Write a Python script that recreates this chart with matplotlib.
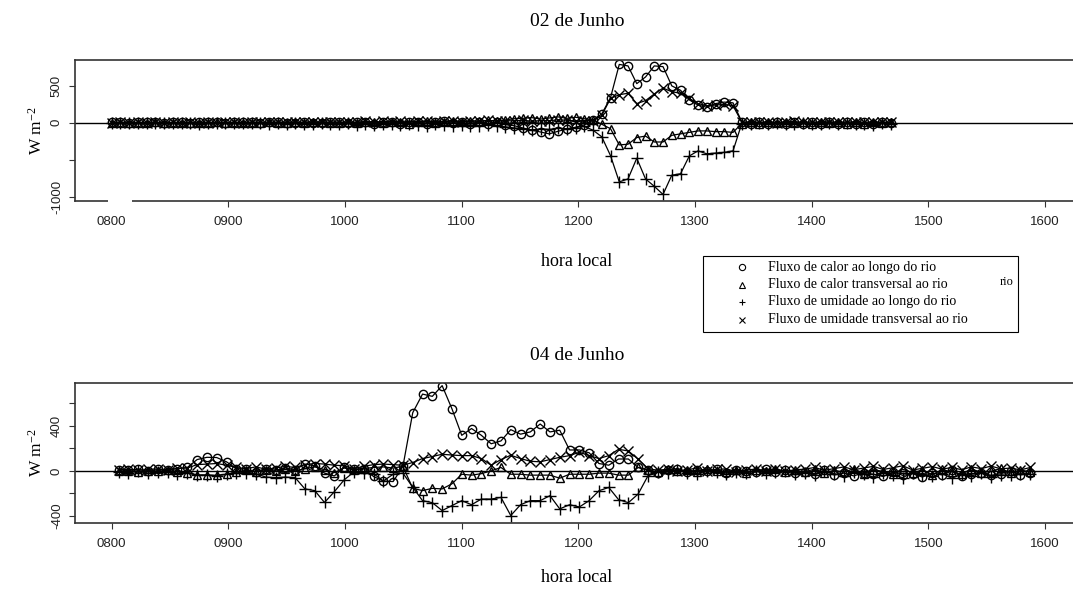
import matplotlib
matplotlib.use("Agg")
import matplotlib.pyplot as plt
import numpy as np
from matplotlib.patches import Rectangle
from matplotlib.lines import Line2D

plt.rcParams['font.family'] = ['Liberation Serif', 'DejaVu Serif']
plt.rcParams['mathtext.default'] = 'regular'

# hora local (hhmm) -- amostragem regular de cada dia
hora_02 = 800 + 7.5 * np.arange(90)
hora_04 = 806 + 8.4 * np.arange(94)

# 02 de Junho
calor_longo_02 = [5, 8, 3, 6, 4, 7, 2, 5, 6, 3, 8, 4, 5, 2, 6,
                  4, 7, 3, 5, 9, 2, -4, 6, 3, -8, 5, 10, -6, 4, 8,
                  -12, 6, 14, -10, 8, 12, -15, 5, 18, -9, 10, -20, 15, -12, 8,
                  -25, -40, -70, -100, -125, -150, -115, -85, -60, -30, 40,
                  120, 340, 790, 770, 530, 620, 770, 760, 500, 440, 310, 240, 210, 260, 280, 270, 15,
                  -10, 12, -15, 8, -20, 10, -12, 15, -18, 6, -10, 14, -22, 9, -15, 12, -8]
calor_transv_02 = [-3, 2, -5, 1, -2, 4, -4, 0, 3, -3, 2, -1, 4, -2, 1,
                   -4, 3, -2, 5, -6, 2, 8, -5, 4, 10, -3, -8, 6, -4, 12,
                   10, -6, 15, 8, -10, 12, 20, -5, 14, 25, 8, 30, 18, 35, 22,
                   40, 55, 60, 70, 50, 65, 80, 60, 75, 55, 40,
                   -20, -80, -300, -290, -200, -180, -260, -260, -170, -150, -130, -110, -110, -120, -120, -130, -10,
                   8, -12, 10, -6, 14, -9, 5, -14, 11, -7, 12, -10, 6, -13, 9, -5, 10]
umid_longo_02 = [-6, -3, -8, -4, -7, -2, -9, -5, -6, -3, -10, -4, -7, -5, -8,
                 -6, -9, -4, -12, -5, -15, -8, -10, -18, -6, -12, -20, -9, -25, -14,
                 -30, -18, -22, -35, -15, -28, -40, -20, -32, -45, -25, -38, -50, -30, -42,
                 -55, -70, -80, -95, -85, -90, -75, -80, -65, -50, -100,
                 -190, -445, -800, -760, -480, -760, -860, -970, -710, -690, -450, -380, -420, -410, -400, -380, -10,
                 -15, -8, -20, -5, -12, -18, -6, -14, -22, -9, -16, -7, -20, -11, -25, -8, -15]
umid_transv_02 = [2, 5, 1, 4, 3, 6, 2, 4, 1, 5, 3, 7, 2, 4, 6,
                  3, 8, 5, 10, 4, 12, 6, 9, 15, 7, 11, 5, 14, 8, 18,
                  10, 20, 12, 25, 15, 18, 28, 12, 22, 30, 16, 26, 20, 32, 24,
                  30, 25, 35, 20, 30, 28, 40, 35, 25, 30, 30,
                  100, 330, 380, 400, 260, 300, 390, 470, 420, 400, 330, 260, 230, 240, 250, 230, 10,
                  12, 6, 15, 3, 10, 18, 5, 12, 8, 16, 4, 11, 14, 7, 13, 9, 5]

# 04 de Junho
calor_longo_04 = [10, 5, 15, -5, 12, 8, 20, 30,
                  100, 120, 118, 80, 20,
                  15, -10, 20, 5, 25, 10,
                  60, 45, -20, -45, 30, 15,
                  20, -50, -90, -95, 40,
                  515, 680, 660, 755, 550, 315, 375, 315, 240, 265, 365, 325,
                  345, 415, 345, 360, 185, 185, 160, 65, 50, 105, 105, 30,
                  10, -15, 5, 20, -10, 8, -5, 15, -20, 10, 0, -12, 18, -8, 6, -15,
                  -10, -25, 5, -35, -20, -45, -15, -30, -50, -10, -40, -25,
                  -55, -20, -35, 5, -45, -30, -15, -40, -25, 0, -35, -20]
calor_transv_04 = [-5, 3, -8, 0, -4, 6, -10, -15,
                   -35, -40, -38, -30, -10,
                   5, -8, 10, -5, 12, 0,
                   20, 35, 10, -15, 25, 8,
                   20, 30, 35, 25, 40,
                   -155, -175, -155, -160, -115, -30, -38, -25, 0, 30, -30, -30,
                   -38, -38, -38, -65, -30, -30, -30, -20, -20, -38, -38, 30,
                   5, -10, 12, -5, 8, -12, 15, 0, -8, 10, -15, 6, -5, 12, -10, 4,
                   -8, 15, -20, 5, -12, 20, -25, 10, -5, -30, 15, -18,
                   8, -35, 12, -10, -28, 18, -15, -5, 22, -20, 10, -12]
umid_longo_04 = [-10, -15, -5, -20, -8, -12, -25, -18,
                 -40, -35, -45, -30, -20,
                 -15, -25, -55, -60, -55, -60,
                 -160, -175, -280, -185, -80, -10,
                 -15, -25, -90, -30, -20,
                 -145, -264, -282, -352, -308, -264, -300, -250, -250, -235, -396, -300,
                 -264, -264, -220, -337, -300, -320, -264, -176, -147, -255, -282, -205,
                 -44, -10, -20, 5, -15, -25, 0, -12, -30, -8, -18, 2, -22, -10, -5, -28,
                 -15, -35, -5, -25, -45, -10, -30, -55, -20, -40, -60, -15,
                 -35, -50, -25, -65, -30, -45, -20, -55, -35, -40, -25, -30]
umid_transv_04 = [8, 15, 5, 12, 18, 10, 22, 25,
                  55, 60, 65, 50, 30,
                  20, 35, 15, 25, 40, 30,
                  55, 65, 60, 50, 45, 20,
                  40, 55, 60, 55, 50,
                  74, 109, 127, 147, 140, 135, 135, 109, 50, 100, 138, 109,
                  85, 80, 100, 120, 135, 165, 135, 109, 135, 191, 176, 103,
                  20, 5, 15, -5, 10, 25, 0, 12, 18, -8, 8, 15, 3, 20, -5, 10,
                  15, 30, 5, 20, 35, 10, 25, 40, 12, 28, 45, 8,
                  22, 38, 15, 30, 10, 35, 20, 42, 18, 25, 8, 30]

legenda = ['Fluxo de calor ao longo do rio',
           'Fluxo de calor transversal ao rio',
           'Fluxo de umidade ao longo do rio',
           'Fluxo de umidade transversal ao rio']
marcadores = ['o', '^', '+', 'x']
tamanhos = [6, 6, 8, 7]
horas = np.arange(800, 1700, 100)

W, H = 1073, 590


def fx(px):
    return px / W


def fy(py):
    return 1 - py / H


fig = plt.figure(figsize=(W / 100, H / 100), dpi=100)
ax1 = fig.add_axes([fx(74.7), fy(201), fx(1079) - fx(74.7), fy(60) - fy(201)])
ax2 = fig.add_axes([fx(74.7), fy(523), fx(1079) - fx(74.7), fy(382.7) - fy(523)])


def painel(ax, hora, series, ylim, yticks, ylabels):
    for y, m, s in zip(series, marcadores, tamanhos):
        ax.plot(hora, y, color='k', lw=0.9, marker=m, ms=s, mfc='none',
                mec='k', mew=1.0)
    ax.axhline(0, color='k', lw=1.0, zorder=1)
    ax.set_xlim(768.3, 1629)
    ax.set_ylim(*ylim)
    ax.set_xticks(horas)
    ax.set_xticklabels(['%04d' % h for h in horas], family='Liberation Sans',
                       fontsize=9.5, color='#222222')
    ax.set_yticks(yticks)
    ax.set_yticklabels(ylabels, family='Liberation Sans', fontsize=9.5,
                       rotation=90, va='center', color='#222222')
    ax.tick_params(axis='both', direction='out', length=4.5, width=0.8, color='#333333')
    ax.tick_params(axis='x', pad=6)
    ax.tick_params(axis='y', pad=4)
    ax.spines['right'].set_visible(False)
    for s in ['left', 'top', 'bottom']:
        ax.spines[s].set_linewidth(1.2)
        ax.spines[s].set_color('#333333')
    ax.set_ylabel(r'W m$^{-2}$', fontsize=12.5, labelpad=4)


painel(ax1, hora_02, [calor_longo_02, calor_transv_02, umid_longo_02, umid_transv_02],
       (-1059, 850), [-1000, -500, 0, 500], ['-1000', '', '0', '500'])
painel(ax2, hora_04, [calor_longo_04, calor_transv_04, umid_longo_04, umid_transv_04],
       (-462, 781), [-400, -200, 0, 200, 400, 600], ['-400', '', '0', '', '400', ''])

fig.text(fx(577), fy(22), '02 de Junho', ha='center', va='center', fontsize=14)
fig.text(fx(577), fy(355), '04 de Junho', ha='center', va='center', fontsize=14)
fig.text(fx(577), fy(262), 'hora local', ha='center', va='center', fontsize=13)
fig.text(fx(577), fy(578), 'hora local', ha='center', va='center', fontsize=13)

# falha na borda inferior do primeiro painel
fig.add_artist(Rectangle((fx(108), fy(210)), fx(132) - fx(108), fy(197) - fy(210),
                         transform=fig.transFigure, fc='white', ec='none', zorder=10))

# legenda
fig.add_artist(Rectangle((fx(703), fy(332)), fx(1018) - fx(703), fy(256) - fy(332),
                         transform=fig.transFigure, fill=False, lw=0.8, ec='k', zorder=10))
for k, (lab, m) in enumerate(zip(legenda, marcadores)):
    yy = 267 + 17.5 * k
    fig.add_artist(Line2D([fx(742)], [fy(yy)], marker=m, ms=4.5, mfc='none', mec='k',
                          mew=0.8, transform=fig.transFigure, zorder=10))
    fig.text(fx(768), fy(yy), lab, va='center', fontsize=10)
fig.text(fx(1000), fy(282), 'rio', va='center', fontsize=9)

fig.savefig('out.png', dpi=100)
